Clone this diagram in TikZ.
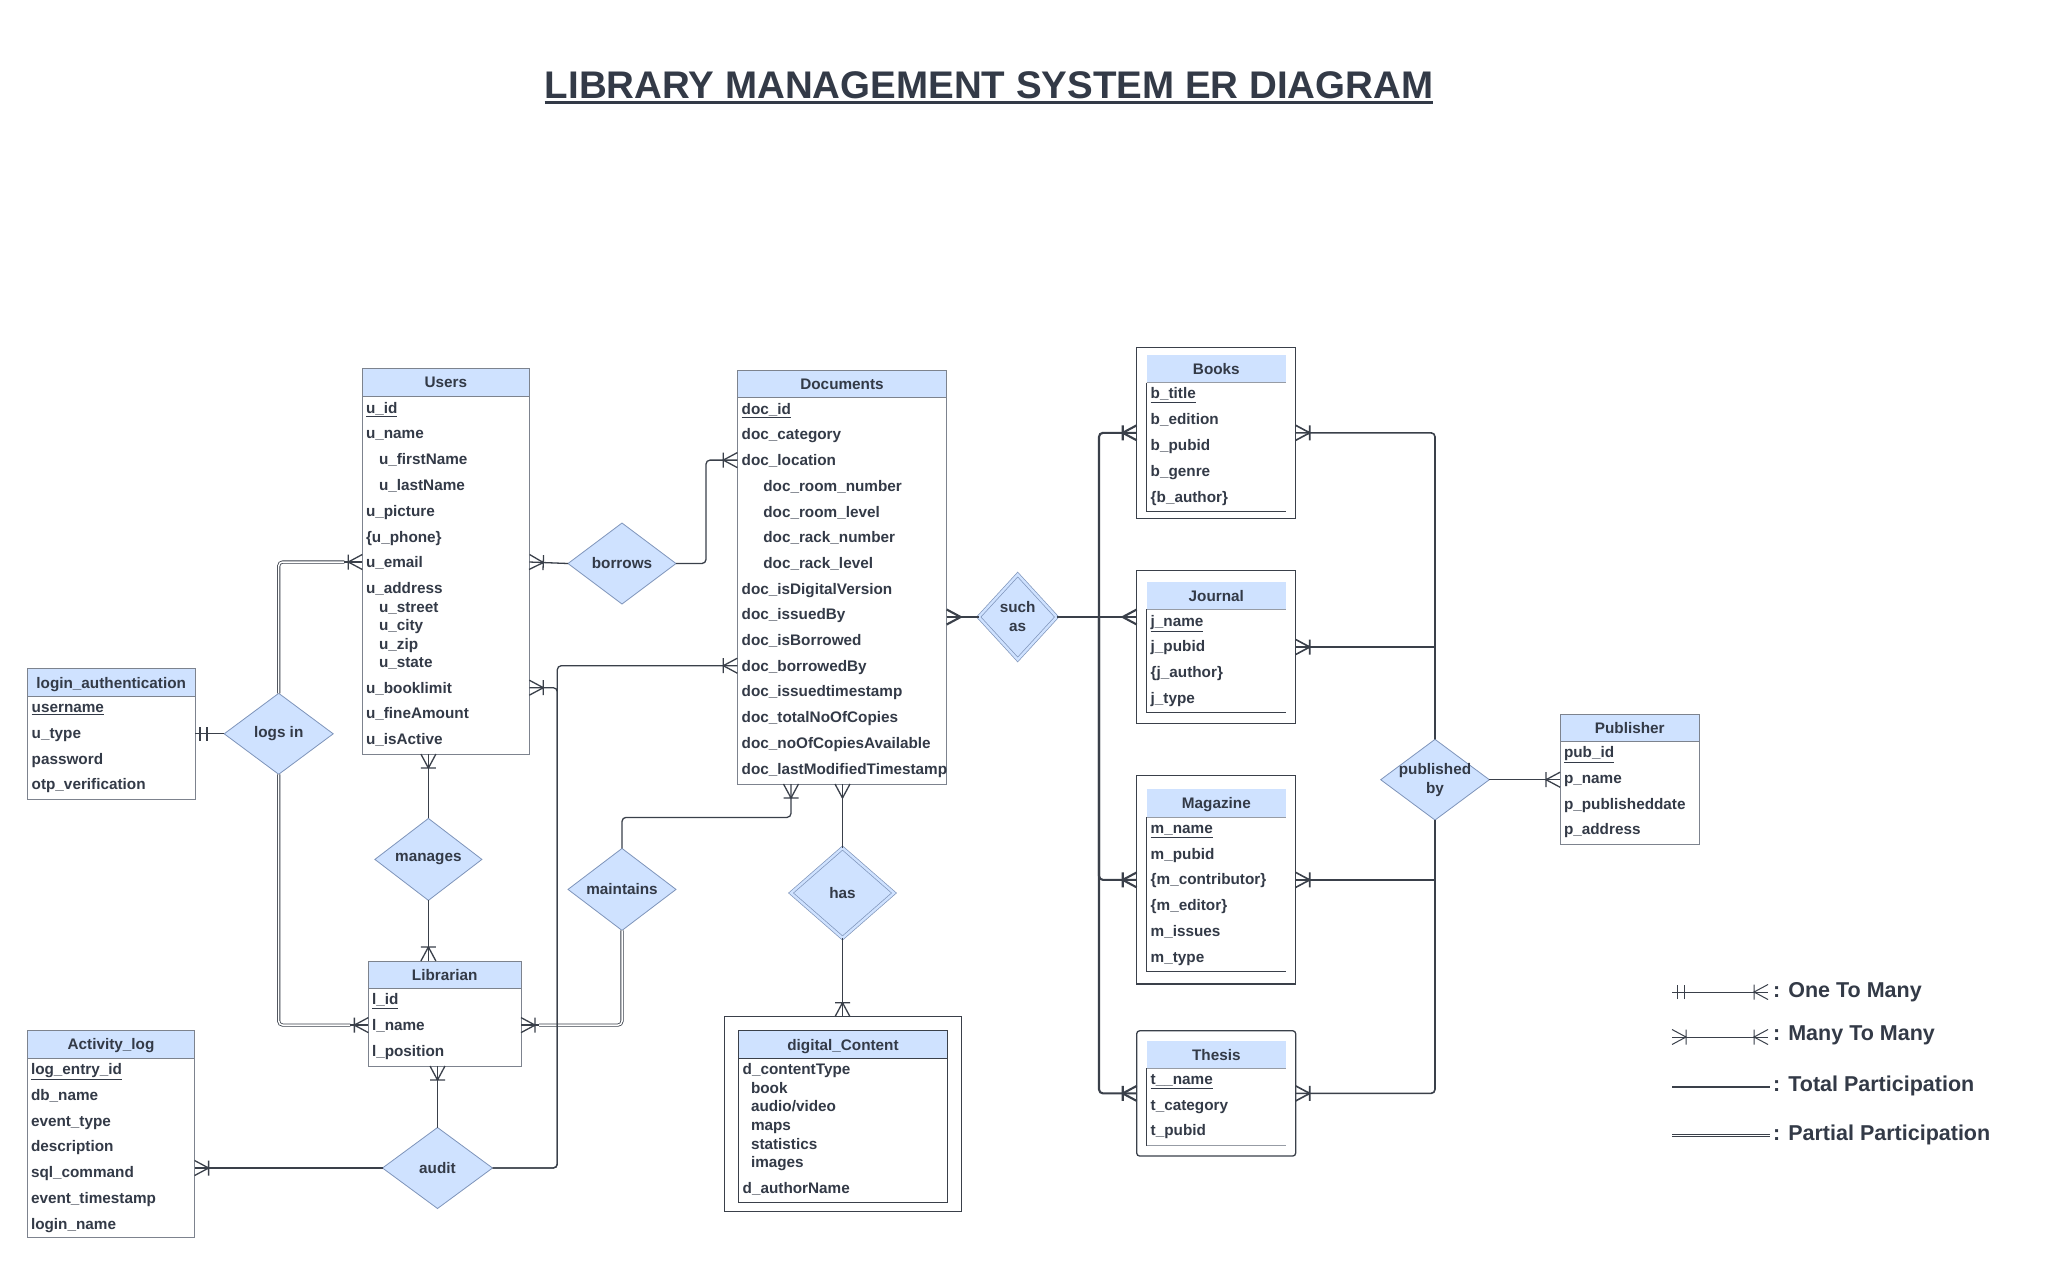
\documentclass[tikz,border=0pt]{standalone}
\usepackage{fontspec}
\setmainfont{Liberation Sans}
\usetikzlibrary{shapes.geometric,arrows.meta}

\definecolor{ink}{RGB}{51,58,71}
\definecolor{wire}{RGB}{58,64,74}
\definecolor{edge}{RGB}{125,131,142}
\definecolor{hdrblue}{RGB}{207,226,255}
\definecolor{dedge}{RGB}{126,148,186}

% crow's foot ends
\pgfdeclarearrow{
  name = crow,
  parameters = {\the\pgfarrowlength,\the\pgfarrowwidth},
  setup code = {
    \pgfarrowssettipend{0pt}
    \pgfarrowssetlineend{0pt}
    \pgfarrowssetbackend{-\pgfarrowlength}
    \pgfarrowshullpoint{0pt}{.5\pgfarrowwidth}
    \pgfarrowshullpoint{0pt}{-.5\pgfarrowwidth}
    \pgfarrowshullpoint{-\pgfarrowlength}{0pt}
    \pgfarrowssavethe\pgfarrowlength
    \pgfarrowssavethe\pgfarrowwidth
  },
  drawing code = {
    \pgfpathmoveto{\pgfqpoint{0pt}{.5\pgfarrowwidth}}
    \pgfpathlineto{\pgfqpoint{-\pgfarrowlength}{0pt}}
    \pgfpathlineto{\pgfqpoint{0pt}{-.5\pgfarrowwidth}}
    \pgfusepathqstroke
  },
  defaults = {length=14pt, width=15pt}
}
\pgfdeclarearrow{
  name = crowbar,
  parameters = {\the\pgfarrowlength,\the\pgfarrowwidth},
  setup code = {
    \pgfarrowssettipend{0pt}
    \pgfarrowssetlineend{0pt}
    \pgfarrowssetbackend{-\pgfarrowlength}
    \pgfarrowshullpoint{0pt}{.5\pgfarrowwidth}
    \pgfarrowshullpoint{0pt}{-.5\pgfarrowwidth}
    \pgfarrowshullpoint{-\pgfarrowlength}{.5\pgfarrowwidth}
    \pgfarrowshullpoint{-\pgfarrowlength}{-.5\pgfarrowwidth}
    \pgfarrowssavethe\pgfarrowlength
    \pgfarrowssavethe\pgfarrowwidth
  },
  drawing code = {
    \pgfpathmoveto{\pgfqpoint{0pt}{.5\pgfarrowwidth}}
    \pgfpathlineto{\pgfqpoint{-\pgfarrowlength}{0pt}}
    \pgfpathlineto{\pgfqpoint{0pt}{-.5\pgfarrowwidth}}
    \pgfpathmoveto{\pgfqpoint{-\pgfarrowlength}{.5\pgfarrowwidth}}
    \pgfpathlineto{\pgfqpoint{-\pgfarrowlength}{-.5\pgfarrowwidth}}
    \pgfusepathqstroke
  },
  defaults = {length=14pt, width=15pt}
}
\pgfdeclarearrow{
  name = twobar,
  parameters = {\the\pgfarrowwidth},
  setup code = {
    \pgfarrowssettipend{0pt}
    \pgfarrowssetlineend{0pt}
    \pgfarrowssetbackend{-12pt}
    \pgfarrowshullpoint{0pt}{.5\pgfarrowwidth}
    \pgfarrowshullpoint{-12pt}{-.5\pgfarrowwidth}
    \pgfarrowssavethe\pgfarrowwidth
  },
  drawing code = {
    \pgfpathmoveto{\pgfqpoint{-5pt}{.5\pgfarrowwidth}}
    \pgfpathlineto{\pgfqpoint{-5pt}{-.5\pgfarrowwidth}}
    \pgfpathmoveto{\pgfqpoint{-12pt}{.5\pgfarrowwidth}}
    \pgfpathlineto{\pgfqpoint{-12pt}{-.5\pgfarrowwidth}}
    \pgfusepathqstroke
  },
  defaults = {width=14pt}
}

\tikzset{
  attr/.style={anchor=west, inner sep=0pt, outer sep=0pt, text=ink, text height=11pt, text depth=0pt,
    font=\bfseries\fontsize{15.3}{18}\selectfont},
  ent/.style={draw=edge, line width=0.9pt, fill=white, inner sep=0pt, outer sep=0pt},
  hdr/.style={ent, fill=hdrblue, minimum height=27.7, text=ink, text height=11pt, text depth=0pt,
    font=\bfseries\fontsize{15.3}{18}\selectfont},
  outerbox/.style={draw=wire, line width=1.3pt, fill=white, inner sep=0pt, outer sep=0pt, minimum width=159},
  ihdr/.style={fill=hdrblue, anchor=north west, minimum width=139.3, minimum height=27.7, inner sep=0pt,
    outer sep=0pt, text=ink, text height=11pt, text depth=0pt, font=\bfseries\fontsize{15.3}{18}\selectfont},
  iline/.style={draw=wire, line width=1pt},
  hline/.style={draw=edge!80, line width=0.8pt},
  rel/.style={diamond, aspect=1.33, draw=dedge, line width=0.8pt, fill=hdrblue, inner sep=0pt, outer sep=0pt,
    text=ink, align=center, font=\bfseries\fontsize{15.3}{19}\selectfont},
  weak/.style={rel, aspect=1, double=hdrblue, double distance=2.4pt, line width=0.7pt},
  conn/.style={draw=wire, line width=1.3pt, rounded corners=4pt},
  thickwire/.style={conn, line width=2.1pt},
  pubwire/.style={conn, line width=1.6pt},
  partial/.style={draw=wire, line width=0.8pt, double=white, double distance=1.5pt, rounded corners=4pt},
  headline/.style={inner sep=0pt, text=ink, font=\bfseries\fontsize{38.5}{44}\selectfont},
  legendtext/.style={anchor=west, inner sep=0pt, text=ink, text height=15pt, text depth=0pt,
    font=\bfseries\fontsize{21.5}{25}\selectfont}
}

\begin{document}
\begin{tikzpicture}[x=1pt,y=-1pt]
\path[use as bounding box, fill=white] (0,0) rectangle (2048,1267);

% Title
\node[headline] (title) at (989,85) {LIBRARY MANAGEMENT SYSTEM ER DIAGRAM};
\draw[ink, line width=2.8pt] ([yshift=-4pt]title.base west) -- ([yshift=-4pt]title.base east);

% Users
\node[ent, minimum width=167, minimum height=385.7] (users) at (445.8,561.2) {};
\node[hdr, minimum width=167, anchor=north] (users-h) at (users.north) {Users};
\foreach \y/\txt [count=\i] in {407.7/\underline{u\_id}, 433.3/u\_name, 459/\hspace*{13pt}u\_firstName,
    485/\hspace*{13pt}u\_lastName, 510.7/u\_picture, 536.7/\{u\_phone\}, 562/u\_email, 588/u\_address,
    606.7/\hspace*{13pt}u\_street, 625.3/\hspace*{13pt}u\_city, 644/\hspace*{13pt}u\_zip,
    662.3/\hspace*{13pt}u\_state, 687.7/u\_booklimit, 713.3/u\_fineAmount, 739/u\_isActive}
  \node[attr] (users-\i) at (366,\y) {\txt};

% Documents
\node[ent, minimum width=209.4, minimum height=414] (docs) at (842,577) {};
\node[hdr, minimum width=209.4, anchor=north] (docs-h) at (docs.north) {Documents};
\foreach \txt [count=\i] in {\underline{doc\_id}, doc\_category, doc\_location,
    \hspace*{21.6pt}doc\_room\_number, \hspace*{21.6pt}doc\_room\_level, \hspace*{21.6pt}doc\_rack\_number,
    \hspace*{21.6pt}doc\_rack\_level, doc\_isDigitalVersion, doc\_issuedBy, doc\_isBorrowed, doc\_borrowedBy,
    doc\_issuedtimestamp, doc\_totalNoOfCopies, doc\_noOfCopiesAvailable, doc\_lastModifiedTimestamp}
  \node[attr] (doc-\i) at (741.7,383+25.7*\i) {\txt};

% login_authentication
\node[ent, minimum width=167.7, minimum height=131] (login) at (111.2,733.8) {};
\node[hdr, minimum width=167.7, minimum height=28.4, anchor=north] (login-h) at (login.north) {login\_authentication};
\foreach \txt [count=\i] in {\underline{username}, u\_type, password, otp\_verification}
  \node[attr] (login-\i) at (31.7,681.6+25.7*\i) {\txt};

% Activity_log
\node[ent, minimum width=167.2, minimum height=206.5] (actlog) at (111,1133.8) {};
\node[hdr, minimum width=167.2, anchor=north] (actlog-h) at (actlog.north) {Activity\_log};
\foreach \txt [count=\i] in {\underline{log\_entry\_id}, db\_name, event\_type, description, sql\_command,
    event\_timestamp, login\_name}
  \node[attr] (act-\i) at (31,1043.6+25.7*\i) {\txt};

% Librarian
\node[ent, minimum width=152.7, minimum height=105] (lib) at (444.7,1013.5) {};
\node[hdr, minimum width=152.7, minimum height=27, anchor=north] (lib-h) at (lib.north) {Librarian};
\foreach \txt [count=\i] in {\underline{l\_id}, l\_name, l\_position}
  \node[attr] (lib-\i) at (372,973.3+25.9*\i) {\txt};

% Publisher
\node[ent, minimum width=139.3, minimum height=130] (pub) at (1629.7,779) {};
\node[hdr, minimum width=139.3, anchor=north] (pub-h) at (pub.north) {Publisher};
\foreach \txt [count=\i] in {\underline{pub\_id}, p\_name, p\_publisheddate, p\_address}
  \node[attr] (pub-\i) at (1564,726.6+25.7*\i) {\txt};

% digital_Content (weak entity)
\node[outerbox, minimum width=237, minimum height=195] (digital) at (842.8,1114.2) {};
\node[ent, draw=wire, line width=1pt, minimum width=208.6, minimum height=171.3] (dig-in) at (843,1116.4) {};
\node[hdr, draw=wire, line width=1pt, minimum width=208.6, anchor=north] (dig-h) at (dig-in.north) {digital\_Content};
\foreach \y/\txt [count=\i] in {1069.3/d\_contentType, 1087.7/\hspace*{8.3pt}book,
    1106.3/{\hspace*{8.3pt}audio/video}, 1125/\hspace*{8.3pt}maps, 1143.7/\hspace*{8.3pt}statistics,
    1162.3/\hspace*{8.3pt}images, 1187.7/d\_authorName}
  \node[attr] (dig-\i) at (742.7,\y) {\txt};

% Books
\node[outerbox, minimum height=171] (books) at (1216.2,432.8) {};
\node[ihdr] (books-h) at (1146.7,355) {Books};
\draw[hline] (books-h.south west) -- (books-h.south east);
\draw[iline] (books-h.south west) |- (1286,511.7);
\foreach \txt [count=\i] in {\underline{b\_title}, b\_edition, b\_pubid, b\_genre, \{b\_author\}}
  \node[attr] (books-\i) at (1150.7,367.5+25.85*\i) {\txt};

% Journal
\node[outerbox, minimum height=152.6] (journal) at (1216.2,647) {};
\node[ihdr] (journal-h) at (1146.7,581.7) {Journal};
\draw[hline] (journal-h.south west) -- (journal-h.south east);
\draw[iline] (journal-h.south west) |- (1286,712.3);
\foreach \txt [count=\i] in {\underline{j\_name}, j\_pubid, \{j\_author\}, j\_type}
  \node[attr] (journal-\i) at (1150.7,595+25.7*\i) {\txt};

% Magazine
\node[outerbox, minimum height=208.3] (magazine) at (1216.2,879.9) {};
\node[ihdr] (magazine-h) at (1146.7,789.3) {Magazine};
\draw[hline] (magazine-h.south west) -- (magazine-h.south east);
\draw[iline] (magazine-h.south west) |- (1286,971);
\foreach \txt [count=\i] in {\underline{m\_name}, m\_pubid, \{m\_contributor\}, \{m\_editor\}, m\_issues, m\_type}
  \node[attr] (magazine-\i) at (1150.7,802.3+25.7*\i) {\txt};

% Thesis
\node[outerbox, rounded corners=3pt, minimum height=125.3] (thesis) at (1216.2,1093.4) {};
\node[ihdr] (thesis-h) at (1146.7,1040.7) {Thesis};
\draw[hline] (thesis-h.south west) -- (thesis-h.south east);
\draw[iline] (thesis-h.south west) -- (1146.7,1145.7);
\draw[hline] (1146.7,1145.7) -- (1286,1145.7);
\foreach \txt [count=\i] in {\underline{t\_\_name}, t\_category, t\_pubid}
  \node[attr] (thesis-\i) at (1150.7,1053.8+25.4*\i) {\txt};

% Relationships
\node[rel, minimum width=108, minimum height=81] (borrows) at (622,563.5) {borrows};
\node[rel, minimum width=109, minimum height=81] (logsin) at (278.7,733.8) {logs in};
\node[rel, minimum width=107, minimum height=82] (manages) at (428.4,859.4) {manages};
\node[rel, minimum width=108, minimum height=82] (maintains) at (622,889.4) {maintains};
\node[rel, minimum width=110, minimum height=81] (audit) at (437.5,1168) {audit};
\node[weak, minimum width=103, minimum height=90] (has) at (842.5,893) {has};
\node[weak, minimum width=78, minimum height=85] (suchas) at (1017.7,617) {such\\as};
\node[rel, minimum width=108.6, minimum height=80.7, inner sep=-3pt] (pubby) at (1435,779.7) {published\\by};

% Partial participation
\coordinate[xshift=-18pt] (u-in) at (users.west |- users-7);
\coordinate[xshift=-18pt] (l-in) at (lib.west |- lib-2);
\coordinate[xshift=18pt] (l-out) at (lib.east |- lib-2);
\draw[partial] (logsin.north) |- (u-in);
\draw[partial] (logsin.south) |- (l-in);
\draw[partial] (maintains.south) |- (l-out);
\draw[conn, -{crowbar}] (u-in) -- (users.west |- users-7);
\draw[conn, -{crowbar}] (l-in) -- (lib.west |- lib-2);
\draw[conn, -{crowbar}] (l-out) -- (lib.east |- lib-2);

% Users side
\draw[conn, -{twobar}] (logsin.west) -- (login.east |- logsin.west);
\draw[conn, {crowbar}-] (users.east |- users-7) -- (borrows.west);
\draw[conn, -{crowbar}] (borrows.east) -- ++(30,0) |- (docs.west |- doc-3);
\draw[conn, {crowbar}-] (users.east |- users-13) -- ++(28,0) |- (audit.east);
\draw[conn, {crowbar}-] (docs.west |- doc-11) -- ++(-180,0) |- (audit.east);
\draw[conn, {crowbar}-] (users.south -| manages.north) -- (manages.north);
\draw[conn, -{crowbar}] (manages.south) -- (manages.south |- lib.north);
\draw[conn, -{crowbar}] (maintains.north) -- ++(0,-31) -| ([xshift=-51pt]docs.south);
\draw[conn, -{crow}] (has.north) -- (has.north |- docs.south);
\draw[conn, -{crowbar}] (has.south) -- (has.south |- digital.north);
\draw[conn, {crowbar}-] (lib.south -| audit.north) -- (audit.north);
\draw[conn, -{crowbar}] (audit.west) -- (actlog.east |- audit.west);

% Document types
\coordinate (fork) at (1099,617);
\draw[thickwire, {crow}-] (docs.east |- suchas.west) -- (suchas.west);
\draw[thickwire, -{crow}] (suchas.east) -- (journal.west |- suchas.east);
\draw[thickwire, -{crowbar}] (fork) |- (books.west);
\draw[thickwire, -{crowbar}] (fork) |- (magazine.west);
\draw[thickwire, -{crowbar}] (fork) |- (thesis.west);

% Publisher side
\draw[pubwire, {crowbar}-] (books.east) -| (pubby.north);
\draw[pubwire, {crowbar}-] (journal.east) -- (journal.east -| pubby.north);
\draw[pubwire, {crowbar}-] (magazine.east) -- (magazine.east -| pubby.south);
\draw[pubwire, {crowbar}-] (thesis.east) -| (pubby.south);
\draw[conn, -{crowbar}] (pubby.east) -- (pub.west |- pubby.east);

% Legend
\node[legendtext] (lg1) at (1773,990) {: One To Many};
\node[legendtext] (lg2) at (1773,1033) {: Many To Many};
\node[legendtext] (lg3) at (1773,1084) {: Total Participation};
\node[legendtext] (lg4) at (1773,1132.7) {: Partial Participation};
\draw[conn, line width=1pt, {twobar}-{crowbar}] ([xshift=-101pt,yshift=-2pt]lg1.west) -- ([xshift=-5pt,yshift=-2pt]lg1.west);
\draw[conn, line width=1pt, {crowbar}-{crowbar}] ([xshift=-101pt,yshift=-4pt]lg2.west) -- ([xshift=-5pt,yshift=-4pt]lg2.west);
\draw[conn, line width=2pt] ([xshift=-101pt,yshift=-2.7pt]lg3.west) -- ([xshift=-3pt,yshift=-2.7pt]lg3.west);
\draw[partial] ([xshift=-101pt,yshift=-3pt]lg4.west) -- ([xshift=-3pt,yshift=-3pt]lg4.west);
\end{tikzpicture}
\end{document}
